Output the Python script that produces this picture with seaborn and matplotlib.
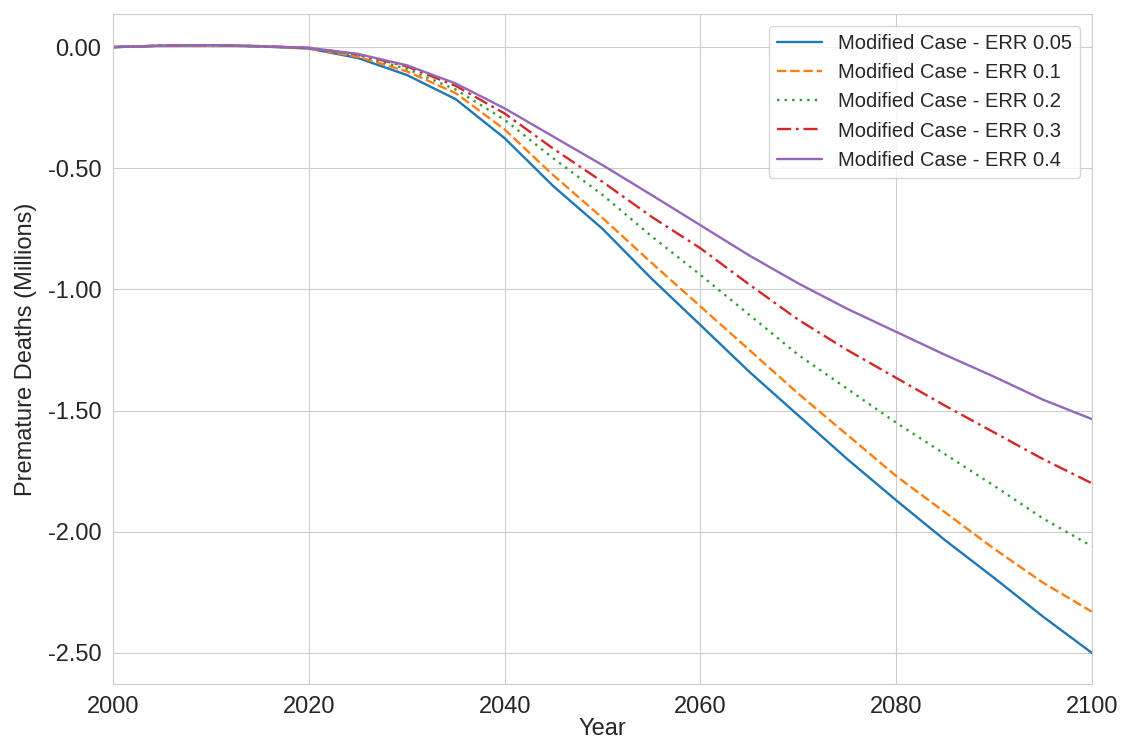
import numpy as np
import pandas as pd
import matplotlib
matplotlib.use('Agg')
import matplotlib.pyplot as plt
import seaborn as sns

# data (millions of premature deaths, modified case)
years = [2000, 2005, 2010, 2015, 2020, 2025, 2030, 2035, 2040, 2045, 2050,
         2055, 2060, 2065, 2070, 2075, 2080, 2085, 2090, 2095, 2100]

err_005 = [0.0, 0.006, 0.008, 0.003, -0.006, -0.045, -0.115, -0.215, -0.376, -0.575, -0.75,
           -0.955, -1.147, -1.34, -1.52, -1.70, -1.87, -2.035, -2.19, -2.35, -2.50]
err_01 = [0.0, 0.006, 0.008, 0.003, -0.005, -0.04, -0.10, -0.19, -0.34, -0.53, -0.705,
          -0.89, -1.07, -1.25, -1.43, -1.60, -1.77, -1.92, -2.07, -2.21, -2.33]
err_02 = [0.0, 0.006, 0.008, 0.004, -0.004, -0.033, -0.09, -0.175, -0.30, -0.46, -0.61,
          -0.78, -0.94, -1.105, -1.27, -1.41, -1.55, -1.68, -1.81, -1.945, -2.06]
err_03 = [0.0, 0.006, 0.008, 0.004, -0.003, -0.03, -0.08, -0.16, -0.274, -0.42, -0.556,
          -0.70, -0.83, -0.98, -1.125, -1.25, -1.365, -1.48, -1.59, -1.70, -1.80]
err_04 = [0.0, 0.006, 0.008, 0.004, -0.003, -0.028, -0.075, -0.15, -0.253, -0.37, -0.487,
          -0.61, -0.735, -0.86, -0.975, -1.08, -1.175, -1.27, -1.36, -1.455, -1.535]

labels = ['Modified Case - ERR 0.05', 'Modified Case - ERR 0.1',
          'Modified Case - ERR 0.2', 'Modified Case - ERR 0.3',
          'Modified Case - ERR 0.4']
series = [err_005, err_01, err_02, err_03, err_04]
colors = ['#1f77b4', '#ff7f0e', '#2ca02c', '#d62728', '#9467bd']
styles = ['-', (0, (4, 1.6)), (0, (1, 2.2)), (0, (6, 2, 1.2, 2)), '-']

sns.set_style('whitegrid')
plt.rcParams['font.family'] = ['Liberation Sans', 'DejaVu Sans']

fig = plt.figure(figsize=(11.21, 7.45), dpi=100)
ax = fig.add_axes([0.101, 0.082, 0.873, 0.899])

for lab, vals, col, ls in zip(labels, series, colors, styles):
    sns.lineplot(x=years, y=vals, ax=ax, color=col, linestyle=ls, linewidth=1.7, label=lab)

ax.set_xlim(2000, 2100)
ax.set_ylim(-2.628, 0.136)
ax.set_yticks([0.0, -0.5, -1.0, -1.5, -2.0, -2.5])
ax.set_yticklabels(['0.00', '-0.50', '-1.00', '-1.50', '-2.00', '-2.50'])
ax.set_xticks([2000, 2020, 2040, 2060, 2080, 2100])
ax.tick_params(labelsize=17, pad=5)
ax.set_xlabel('Year', fontsize=17, labelpad=0)
ax.set_ylabel('Premature Deaths (Millions)', fontsize=17, labelpad=8)

ax.legend(loc='upper right', fontsize=14.5, frameon=True, handlelength=2.2,
          borderaxespad=0.6, labelspacing=0.5)

fig.savefig('out.png', dpi=100)
